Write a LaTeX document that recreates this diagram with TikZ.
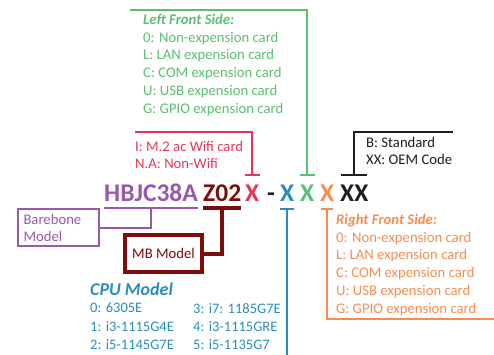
\documentclass[tikz,border=0pt]{standalone}
\usepackage{fontspec}
\setmainfont{Carlito}
\usetikzlibrary{arrows.meta,positioning}
\definecolor{cpurple}{RGB}{152,88,176}
\definecolor{cmb}{RGB}{125,12,12}
\definecolor{cred}{RGB}{232,52,88}
\definecolor{cblue}{RGB}{42,140,190}
\definecolor{cgreen}{RGB}{92,190,112}
\definecolor{corange}{RGB}{246,140,82}
\definecolor{cdark}{RGB}{30,30,30}

\begin{document}
\begin{tikzpicture}[x=1pt,y=-1pt,
  code/.style={font=\fontsize{25.5}{25.5}\selectfont\bfseries,inner sep=0pt,
               anchor=base west},
  legend/.style={font=\fontsize{14.7}{17.7}\selectfont,align=left,
                 inner sep=0pt,anchor=north west},
  tee/.style={arrows={Bar[width=15pt]-},line width=2pt},
  box/.style={draw,line width=2pt,inner sep=0pt,align=left}]
\useasboundingbox (0,0) rectangle (494,355);
% part number
\node[code,cpurple] (hb) at (104,201) {HBJC38A};
\node[code,cmb] (z02) at (203,201) {Z02};
\node[code,cred] (xr) at (245,201) {X};
\node[code,cdark] (dash) at (267,201) {-};
\node[code,cblue] (xb) at (280,201) {X};
\node[code,cgreen] (xg) at (300,201) {X};
\node[code,corange] (xo) at (320,201) {X};
\node[code,cdark] (xx) at (340,201) {XX};
% legends
\node[legend,cgreen] (left) at (143,14)
  {\textbf{\textit{Left Front Side:}}\\ 0: Non-expension card\\
   L: LAN expension card\\ C: COM expension card\\ U: USB expension card\\
   G: GPIO expension card};
\node[legend,cred,font=\fontsize{14.7}{17}\selectfont] (wifi) at (135,141)
  {I: M.2 ac Wifi card\\ N.A: Non-Wifi};
\node[legend,cdark,font=\fontsize{14.7}{17}\selectfont] (oem) at (366,137)
  {B: Standard\\ XX: OEM Code};
\node[legend,corange] (right) at (336,214)
  {\textbf{\textit{Right Front Side:}}\\ 0: Non-expension card\\
   L: LAN expension card\\ C: COM expension card\\ U: USB expension card\\
   G: GPIO expension card};
\node[legend,cblue,font=\fontsize{18}{18}\selectfont\bfseries\itshape]
  (cpu) at (90,283) {CPU Model};
\node[legend,cblue,font=\fontsize{14.5}{18.2}\selectfont] (cpua) at (90,303)
  {0: 6305E\\ 1: i3-1115G4E\\ 2: i5-1145G7E};
\node[legend,cblue,font=\fontsize{14.5}{18.2}\selectfont] (cpub) at (193,303)
  {3: i7: 1185G7E\\ 4: i3-1115GRE\\ 5: i5-1135G7};
\node[box,cpurple,minimum width=81pt,minimum height=37pt,text width=70pt,
      font=\fontsize{14.7}{17}\selectfont,anchor=north west]
  (bb) at (17,208) {Barebone\\ Model};
\node[box,cmb,line width=4pt,minimum width=77pt,minimum height=37pt,
      font=\fontsize{14.7}{14.7}\selectfont,anchor=north west]
  (mb) at (123,233) {MB Model};
\coordinate (gend) at (130,10);
\coordinate (rend) at (135,132);
\coordinate (kend) at (453,132);
\coordinate (bend) at (287,356);
\coordinate (oend) at (495,319);
% connectors
\draw[tee,cgreen,line width=2.5pt] ([yshift=8pt]xg.north) |- (gend);
\draw[tee,cred] ([yshift=8pt]xr.north) |- (rend);
\draw[tee,cdark,arrows={Bar[width=26pt]-}] ([yshift=8pt]xx.north) |- (kend);
\draw[tee,cblue,arrows={Bar[width=14pt]-}] ([yshift=-7pt]xb.south) -- (xb.south |- bend);
\draw[tee,corange,arrows={Bar[width=12pt]-}] ([yshift=-7pt]xo.south) |- (oend);
\draw[cpurple,line width=2pt] ([yshift=-7pt]hb.base west) -- ([yshift=-7pt]hb.base east);
\draw[cpurple,line width=2pt] ([yshift=-7pt]hb.base) |- (bb.east);
\draw[cmb,line width=4pt] ([yshift=-7pt]z02.base west) -- ([yshift=-7pt]z02.base east);
\draw[cmb,line width=4pt] ([yshift=-7pt]z02.base) |- (mb.east);
\end{tikzpicture}
\end{document}
